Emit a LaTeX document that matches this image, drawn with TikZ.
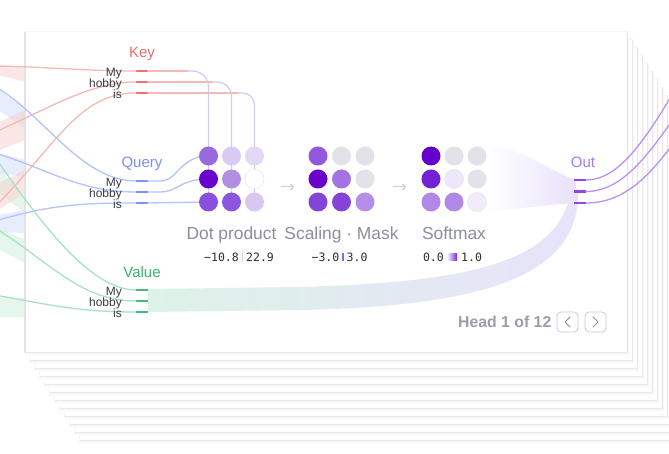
\documentclass[tikz,border=0pt]{standalone}
\usepackage{fontspec}
\setmainfont{Liberation Sans}
\newfontfamily\numfont{DejaVu Sans Mono}
\usetikzlibrary{arrows.meta}
\definecolor{keyc}{HTML}{E2706A}
\definecolor{keybar}{HTML}{E8766F}
\definecolor{keythin}{HTML}{F3BAB6}
\definecolor{qc}{HTML}{7C8EF7}
\definecolor{qbar}{HTML}{7D93F2}
\definecolor{qthin}{HTML}{B5C3FC}
\definecolor{vc}{HTML}{3DB36E}
\definecolor{vbar}{HTML}{47B87B}
\definecolor{vthin}{HTML}{A8E2C5}
\definecolor{oc}{HTML}{A57CF2}
\definecolor{obar}{HTML}{8F45E8}
\definecolor{othin}{HTML}{B792F5}
\definecolor{lavline}{HTML}{D7C9F5}
\definecolor{wordc}{HTML}{3A3A44}
\definecolor{stagec}{HTML}{8B8F9B}
\definecolor{numc}{HTML}{2D2D33}
\definecolor{pinkband}{HTML}{F7CFCC}
\definecolor{blueband}{HTML}{D3DCFC}
\definecolor{greenband}{HTML}{CDEFDD}
\definecolor{bandgreen}{HTML}{DDF2E7}
\definecolor{bandlav}{HTML}{E7E3FA}
\definecolor{smlav}{HTML}{E8E1FC}
\definecolor{arrc}{HTML}{CDCDD4}
\definecolor{btnc}{HTML}{C9CBD4}
\definecolor{chevc}{HTML}{8C909C}
\definecolor{headc}{HTML}{9A9EAB}
\definecolor{rng1}{HTML}{DCD2F2}
\definecolor{rng2}{HTML}{9D5FE8}
\definecolor{rng3a}{HTML}{EDE5FB}
\definecolor{rng3b}{HTML}{7A2AD8}
\definecolor{shadowc}{HTML}{E9E9EC}
\newcommand\dotn[4]{\definecolor{dc#1}{HTML}{#4}\node[dotc, fill=dc#1] (#1) at (#2,#3) {};}
\newcommand\dotl[4]{\definecolor{dc#1}{HTML}{#4}\node[dotc, fill=dc#1, draw=black!9, line width=0.6] (#1) at (#2,#3) {};}
\begin{document}
\begin{tikzpicture}[x=1pt,y=-1pt,
  wordlbl/.style={anchor=base east, font=\fontsize{12}{12}\selectfont, text=wordc, inner sep=0},
  grplbl/.style={anchor=base, font=\fontsize{15}{15}\selectfont, inner sep=0},
  stagelbl/.style={anchor=base, font=\fontsize{17.4}{17.4}\selectfont, text=stagec, inner sep=0},
  num/.style={font=\numfont\fontsize{11.5}{11.5}\selectfont, text=numc, inner sep=0},
  barn/.style={minimum width=12pt, minimum height=2.7pt, inner sep=0, outer sep=0, draw=none},
  dotc/.style={circle, minimum size=19pt, inner sep=0, outer sep=0},
  thinline/.style={line width=1.3, line cap=round},
  flowarr/.style={draw=arrc, line width=1, -{Straight Barb[length=3pt,width=6pt]}},
  btn/.style={draw=btnc, line width=0.8, rounded corners=4pt, minimum width=21pt, minimum height=20pt, inner sep=0},
  bandfill/.style={fill opacity=0.5}
]
\useasboundingbox (0,0) rectangle (669,454);
\clip (0,0) rectangle (669,454);
\fill[white] (0,0) rectangle (669,454);

% stacked head cards (soft shadows)
\foreach \k in {11,10,...,1} {
  \fill[black!3] ({25+5*\k-1},{32+8*\k-0.5}) rectangle ({627+5*\k+1.6},{352+8*\k+3});
  \fill[shadowc] ({25+5*\k-0.5},{32+8*\k-0.3}) rectangle ({627+5*\k+0.8},{352+8*\k+1.4});
  \fill[white] ({25+5*\k},{32+8*\k}) rectangle ({627+5*\k},{352+8*\k});
}

% incoming bands from the previous layer
\begin{scope}
\clip (0,0) rectangle (25,454);
\fill[pinkband, bandfill] (-5,64) -- (25,68) -- (25,82) -- (-5,74) -- cycle;
\fill[blueband, bandfill] (-5,88) -- (25,108) -- (25,128) -- (-5,108) -- cycle;
\fill[pinkband, bandfill] (-5,124) -- (25,110) -- (25,140) -- (-5,152) -- cycle;
\fill[blueband, bandfill] (-5,152) -- (25,160) -- (25,177) -- (-5,173) -- cycle;
\fill[greenband, bandfill] (-5,165) -- (25,197) -- (25,213) -- (-5,190) -- cycle;
\fill[pinkband, bandfill] (-5,185) -- (25,170) -- (25,193) -- (-5,212) -- cycle;
\fill[blueband, bandfill] (-5,216) -- (25,210) -- (25,233) -- (-5,232) -- cycle;
\fill[greenband, bandfill] (-5,226) -- (25,240) -- (25,263) -- (-5,247) -- cycle;
\fill[greenband, bandfill] (-5,297) -- (25,298) -- (25,317) -- (-5,317) -- cycle;
\end{scope}

% main card
\fill[black!3] (24,31.5) rectangle (628.6,355);
\fill[shadowc] (24.5,31.7) rectangle (627.8,353.4);
\fill[white] (25,32) rectangle (627,352);
\draw[black!11, line width=1.4] (25,32) -- (25,352);

% value band to Out
\path[left color=bandgreen, right color=bandlav] (148,289) -- (300,287)
  .. controls (480,282) and (565,260) .. (572,183) -- (578,190)
  .. controls (580,270) and (500,306) .. (300,310) -- (148,312) -- cycle;
% softmax band to Out
\path[left color=white, right color=smlav] (487,146)
  .. controls (525,148) and (550,172) .. (576,180) -- (576,203)
  .. controls (545,205) and (515,209) .. (487,212) -- cycle;

% bars
\node[barn, fill=keybar] (k1) at (142,71) {};
\node[barn, fill=keybar] (k2) at (142,82) {};
\node[barn, fill=keybar] (k3) at (142,93) {};
\node[barn, fill=qbar] (q1) at (142,181) {};
\node[barn, fill=qbar] (q2) at (142,192) {};
\node[barn, fill=qbar] (q3) at (142,203) {};
\node[barn, fill=vbar] (v1) at (142,290) {};
\node[barn, fill=vbar] (v2) at (142,301) {};
\node[barn, fill=vbar] (v3) at (142,312) {};
\node[barn, fill=obar] (o1) at (580,180) {};
\node[barn, fill=obar] (o2) at (580,191.5) {};
\node[barn, fill=obar] (o3) at (580,203) {};

% thin incoming lines
\draw[thinline, keythin] (-5,66) .. controls (50,67) and (85,71) .. (k1.west);
\draw[thinline, keythin] (-5,132) .. controls (50,108) and (90,82) .. (k2.west);
\draw[thinline, keythin] (-5,207) .. controls (60,140) and (80,93) .. (k3.west);
\draw[thinline, qthin] (-5,87) .. controls (40,110) and (80,181) .. (q1.west);
\draw[thinline, qthin] (-5,153) .. controls (50,170) and (80,192) .. (q2.west);
\draw[thinline, qthin] (-5,221) .. controls (50,205) and (80,203) .. (q3.west);
\draw[thinline, vthin] (-5,157) .. controls (40,222) and (90,290) .. (v1.west);
\draw[thinline, vthin] (-5,228) .. controls (50,262) and (80,301) .. (v2.west);
\draw[thinline, vthin] (-5,295) .. controls (50,305) and (80,312) .. (v3.west);

% dot centres
\coordinate (p11) at (208.5,156);
\coordinate (p21) at (208.5,179);
\coordinate (p31) at (208.5,202); \coordinate (p32) at (231.5,202); \coordinate (p33) at (254.5,202);

% key lines into the dot product columns
\draw[thinline, lavline, rounded corners=16pt] (k1.east) -| (p31);
\draw[thinline, lavline, rounded corners=14pt] (k2.east) -| (p32);
\draw[thinline, lavline, rounded corners=12pt] (k3.east) -| (p33);
\draw[thinline, keythin] (k1.east) -- (188,71);
\draw[thinline, keythin] (k2.east) -- (212,82);
\draw[thinline, keythin] (k3.east) -- (238,93);
% query lines into the rows
\draw[thinline, qthin] (q1.east) -- (160,181) .. controls (178,181) and (180,156) .. (p11);
\draw[thinline, qthin] (q2.east) -- (160,192) .. controls (178,192) and (180,179) .. (p21);
\draw[thinline, qthin] (q3.east) -- (p31);

% out lines
\draw[thinline, othin] (o1.east) .. controls (615,180) and (640,150) .. (676,88);
\draw[thinline, othin] (o2.east) .. controls (620,191.5) and (645,160) .. (676,115);
\draw[thinline, othin] (o3.east) .. controls (625,203) and (650,175) .. (676,140);

% grid 1: dot product
\dotn{a11}{208.5}{156}{9A68DF} \dotn{a12}{231.5}{156}{D9CAF3} \dotn{a13}{254.5}{156}{E3D8F6}
\dotn{a21}{208.5}{179}{6A04CC} \dotn{a22}{231.5}{179}{B38EE3} \dotl{a23}{254.5}{179}{FFFFFF}
\dotn{a31}{208.5}{202}{8850DC} \dotn{a32}{231.5}{202}{8C55DD} \dotn{a33}{254.5}{202}{D9C6F1}
% grid 2: scaling / mask
\dotn{b11}{318}{156}{9458DE} \dotn{b12}{341.5}{156}{E2E2E8} \dotn{b13}{365}{156}{E2E2E8}
\dotn{b21}{318}{179}{6A00CC} \dotn{b22}{341.5}{179}{A572E1} \dotn{b23}{365}{179}{E2E2E8}
\dotn{b31}{318}{202}{8444DA} \dotn{b32}{341.5}{202}{8444DA} \dotn{b33}{365}{202}{B48EE8}
% grid 3: softmax
\dotn{c11}{431}{156}{6600CC} \dotn{c12}{454}{156}{E2E2E8} \dotn{c13}{477}{156}{E2E2E8}
\dotn{c21}{431}{179}{7222D2} \dotl{c22}{454}{179}{EEE6FA} \dotn{c23}{477}{179}{E2E2E8}
\dotn{c31}{431}{202}{B088E5} \dotn{c32}{454}{202}{B088E5} \dotl{c33}{477}{202}{F2ECFA}

% arrows between stages
\coordinate (ar1s) at (281,187); \coordinate (ar1e) at (294,187);
\coordinate (ar2s) at (393,187); \coordinate (ar2e) at (406,187);
\draw[flowarr] (ar1s) -- (ar1e);
\draw[flowarr] (ar2s) -- (ar2e);

% group labels
\node[grplbl, text=keyc] (keylbl) at (142,58) {Key};
\node[grplbl, text=qc] (qlbl) at (142,168) {Query};
\node[grplbl, text=vc] (vlbl) at (142,277) {Value};
\node[grplbl, text=oc] (olbl) at (583,168) {Out};

% word labels
\node[wordlbl] (kw1) at (122,76.5) {My};
\node[wordlbl] (kw2) at (122,87.5) {hobby};
\node[wordlbl] (kw3) at (122,98.5) {is};
\node[wordlbl] (qw1) at (122,186.5) {My};
\node[wordlbl] (qw2) at (122,197.5) {hobby};
\node[wordlbl] (qw3) at (122,208.5) {is};
\node[wordlbl] (vw1) at (122,295.5) {My};
\node[wordlbl] (vw2) at (122,306.5) {hobby};
\node[wordlbl] (vw3) at (122,317.5) {is};

% stage labels
\node[stagelbl] (s1) at (231.5,239.5) {Dot product};
\node[stagelbl] (s2) at (341.5,239.5) {Scaling · Mask};
\node[stagelbl] (s3) at (454,239.5) {Softmax};

% ranges
\node[num, anchor=east] (r1a) at (239,257) {−10.8};
\node[fill=rng1, minimum width=1pt, minimum height=11pt, inner sep=0] (r1b) at (242.5,257) {};
\node[num, anchor=west] (r1c) at (246,257) {22.9};
\node[num, anchor=east] (r2a) at (339.5,257) {−3.0};
\node[fill=rng2, minimum width=2pt, minimum height=8pt, inner sep=0] (r2b) at (343,257) {};
\node[num, anchor=west] (r2c) at (346.5,257) {3.0};
\node[num, anchor=east] (r3a) at (444,257) {0.0};
\path[left color=rng3a, right color=rng3b] (448,253.5) rectangle (457,260.5);
\node[num, anchor=west] (r3c) at (461,257) {1.0};

% head selector
\node[anchor=base east, font=\fontsize{15.8}{15.8}\selectfont\bfseries, text=headc, inner sep=0] (head) at (551.5,327.5) {Head 1 of 12};
\node[btn] (prev) at (567.5,322) {};
\node[btn] (next) at (595.5,322) {};
\draw[chevc, line width=1, line cap=round, line join=round] ([shift={(2.5,-5)}]prev.center) -- ([shift={(-2.5,0)}]prev.center) -- ([shift={(2.5,5)}]prev.center);
\draw[chevc, line width=1, line cap=round, line join=round] ([shift={(-2.5,-5)}]next.center) -- ([shift={(2.5,0)}]next.center) -- ([shift={(-2.5,5)}]next.center);
\end{tikzpicture}
\end{document}
